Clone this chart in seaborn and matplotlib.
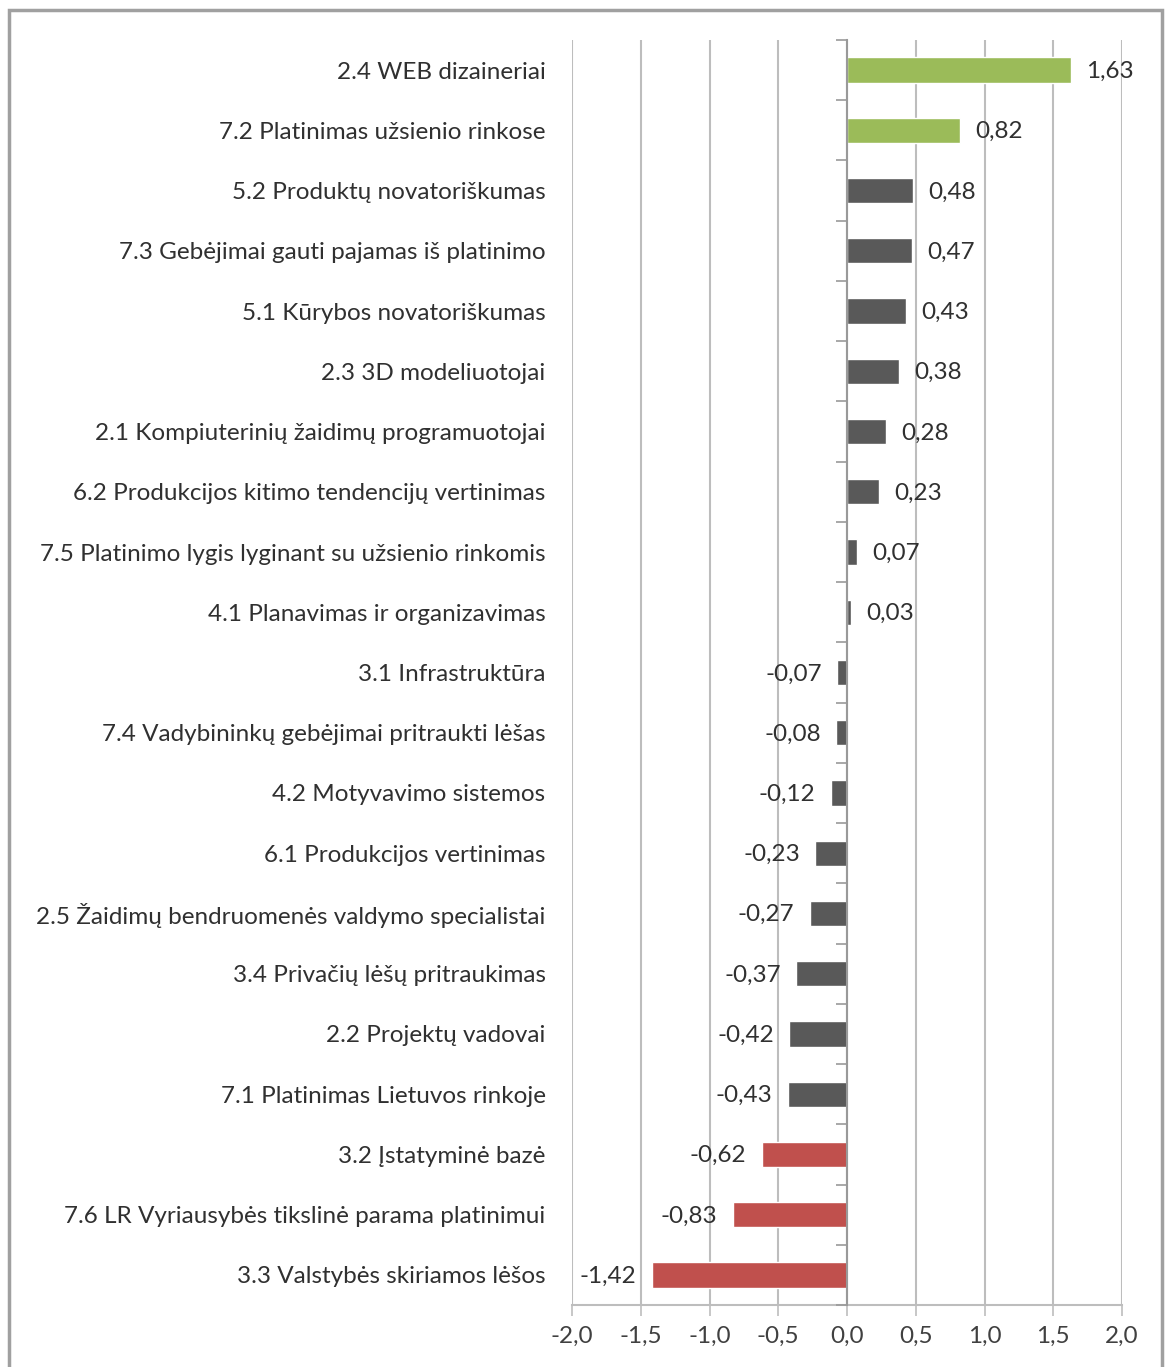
import matplotlib
matplotlib.use("Agg")
import matplotlib.pyplot as plt
import seaborn as sns
import pandas as pd
import numpy as np
from matplotlib.patches import Rectangle

categories = [
    "2.4 WEB dizaineriai",
    "7.2 Platinimas užsienio rinkose",
    "5.2 Produktų novatoriškumas",
    "7.3 Gebėjimai gauti pajamas iš platinimo",
    "5.1 Kūrybos novatoriškumas",
    "2.3 3D modeliuotojai",
    "2.1 Kompiuterinių žaidimų programuotojai",
    "6.2 Produkcijos kitimo tendencijų vertinimas",
    "7.5 Platinimo lygis lyginant su užsienio rinkomis",
    "4.1 Planavimas ir organizavimas",
    "3.1 Infrastruktūra",
    "7.4 Vadybininkų gebėjimai pritraukti lėšas",
    "4.2 Motyvavimo sistemos",
    "6.1 Produkcijos vertinimas",
    "2.5 Žaidimų bendruomenės valdymo specialistai",
    "3.4 Privačių lėšų pritraukimas",
    "2.2 Projektų vadovai",
    "7.1 Platinimas Lietuvos rinkoje",
    "3.2 Įstatyminė bazė",
    "7.6 LR Vyriausybės tikslinė parama platinimui",
    "3.3 Valstybės skiriamos lėšos",
]
values = [1.63, 0.82, 0.48, 0.47, 0.43, 0.38, 0.28, 0.23, 0.07, 0.03,
          -0.07, -0.08, -0.12, -0.23, -0.27, -0.37, -0.42, -0.43,
          -0.62, -0.83, -1.42]
groups = ["high"] * 2 + ["mid"] * 16 + ["low"] * 3
x_ticks = [-2.0, -1.5, -1.0, -0.5, 0.0, 0.5, 1.0, 1.5, 2.0]
x_tick_labels = ["-2,0", "-1,5", "-1,0", "-0,5", "0,0", "0,5", "1,0", "1,5", "2,0"]

palette = {"high": "#9BBB59", "mid": "#595959", "low": "#C0504D"}

df = pd.DataFrame({"cat": categories, "val": values, "grp": groups})

sns.set_theme(style="white")
plt.rcParams["font.family"] = ["Lato", "DejaVu Sans"]

W, H = 1168, 1367
fig = plt.figure(figsize=(W / 100, H / 100), dpi=100)
ax_rect = [572 / W, 1 - 1305 / H, (1122 - 572) / W, (1305 - 40) / H]
ax = fig.add_axes(ax_rect)

sns.barplot(data=df, y="cat", x="val", hue="grp", palette=palette,
            order=categories, dodge=False, legend=False, width=0.42,
            orient="h", ax=ax, saturation=1)

ax.set_xlim(-2, 2)
ax.set_ylim(len(categories) - 0.5, -0.5)
ax.set_xlabel("")
ax.set_ylabel("")

gridc = "#BDBDBD"
ax.set_xticks(x_ticks)
ax.set_xticklabels(x_tick_labels, fontsize=17.5, color="#404040")
ax.xaxis.grid(True, color=gridc, linewidth=1.5)
ax.set_axisbelow(True)
ax.tick_params(axis="x", direction="out", length=8, width=1.2, color=gridc, pad=7, bottom=True)

ax.set_yticks(range(len(categories)))
ax.set_yticklabels(categories, fontsize=17.5, color="#303030")
ax.tick_params(axis="y", length=0, pad=19)

for s in ["top", "right", "left"]:
    ax.spines[s].set_visible(False)
ax.spines["bottom"].set_color(gridc)
ax.spines["bottom"].set_linewidth(1.5)

# category axis at x = 0 with boundary ticks pointing left
zero_x = ax_rect[0] + ax_rect[2] * 0.5
ax2 = fig.add_axes([zero_x, ax_rect[1], 0.001, ax_rect[3]], facecolor="none")
ax2.set_ylim(ax.get_ylim())
ax2.set_yticks(np.arange(-0.5, len(categories), 1.0))
ax2.set_yticklabels([])
ax2.set_xticks([])
ax2.tick_params(axis="y", direction="out", length=8, width=1.2, color="#999999",
                left=True, right=False)
for name, s in ax2.spines.items():
    s.set_visible(name == "left")
ax2.spines["left"].set_color("#999999")
ax2.spines["left"].set_linewidth(1.5)

for i, v in enumerate(values):
    label = f"{v:.2f}".replace(".", ",")
    if v >= 0:
        ax.annotate(label, (v, i), xytext=(11, -1), textcoords="offset points",
                    ha="left", va="center", fontsize=17.5, color="#303030")
    else:
        ax.annotate(label, (v, i), xytext=(-11, -1), textcoords="offset points",
                    ha="right", va="center", fontsize=17.5, color="#303030")

fig.patches.append(Rectangle((9 / W, -0.02), (1162 - 9) / W, 1 - 10 / H + 0.02,
                             transform=fig.transFigure, fill=False,
                             edgecolor="#A0A0A0", linewidth=2.5))

fig.savefig("out.png", dpi=100, facecolor="white")
